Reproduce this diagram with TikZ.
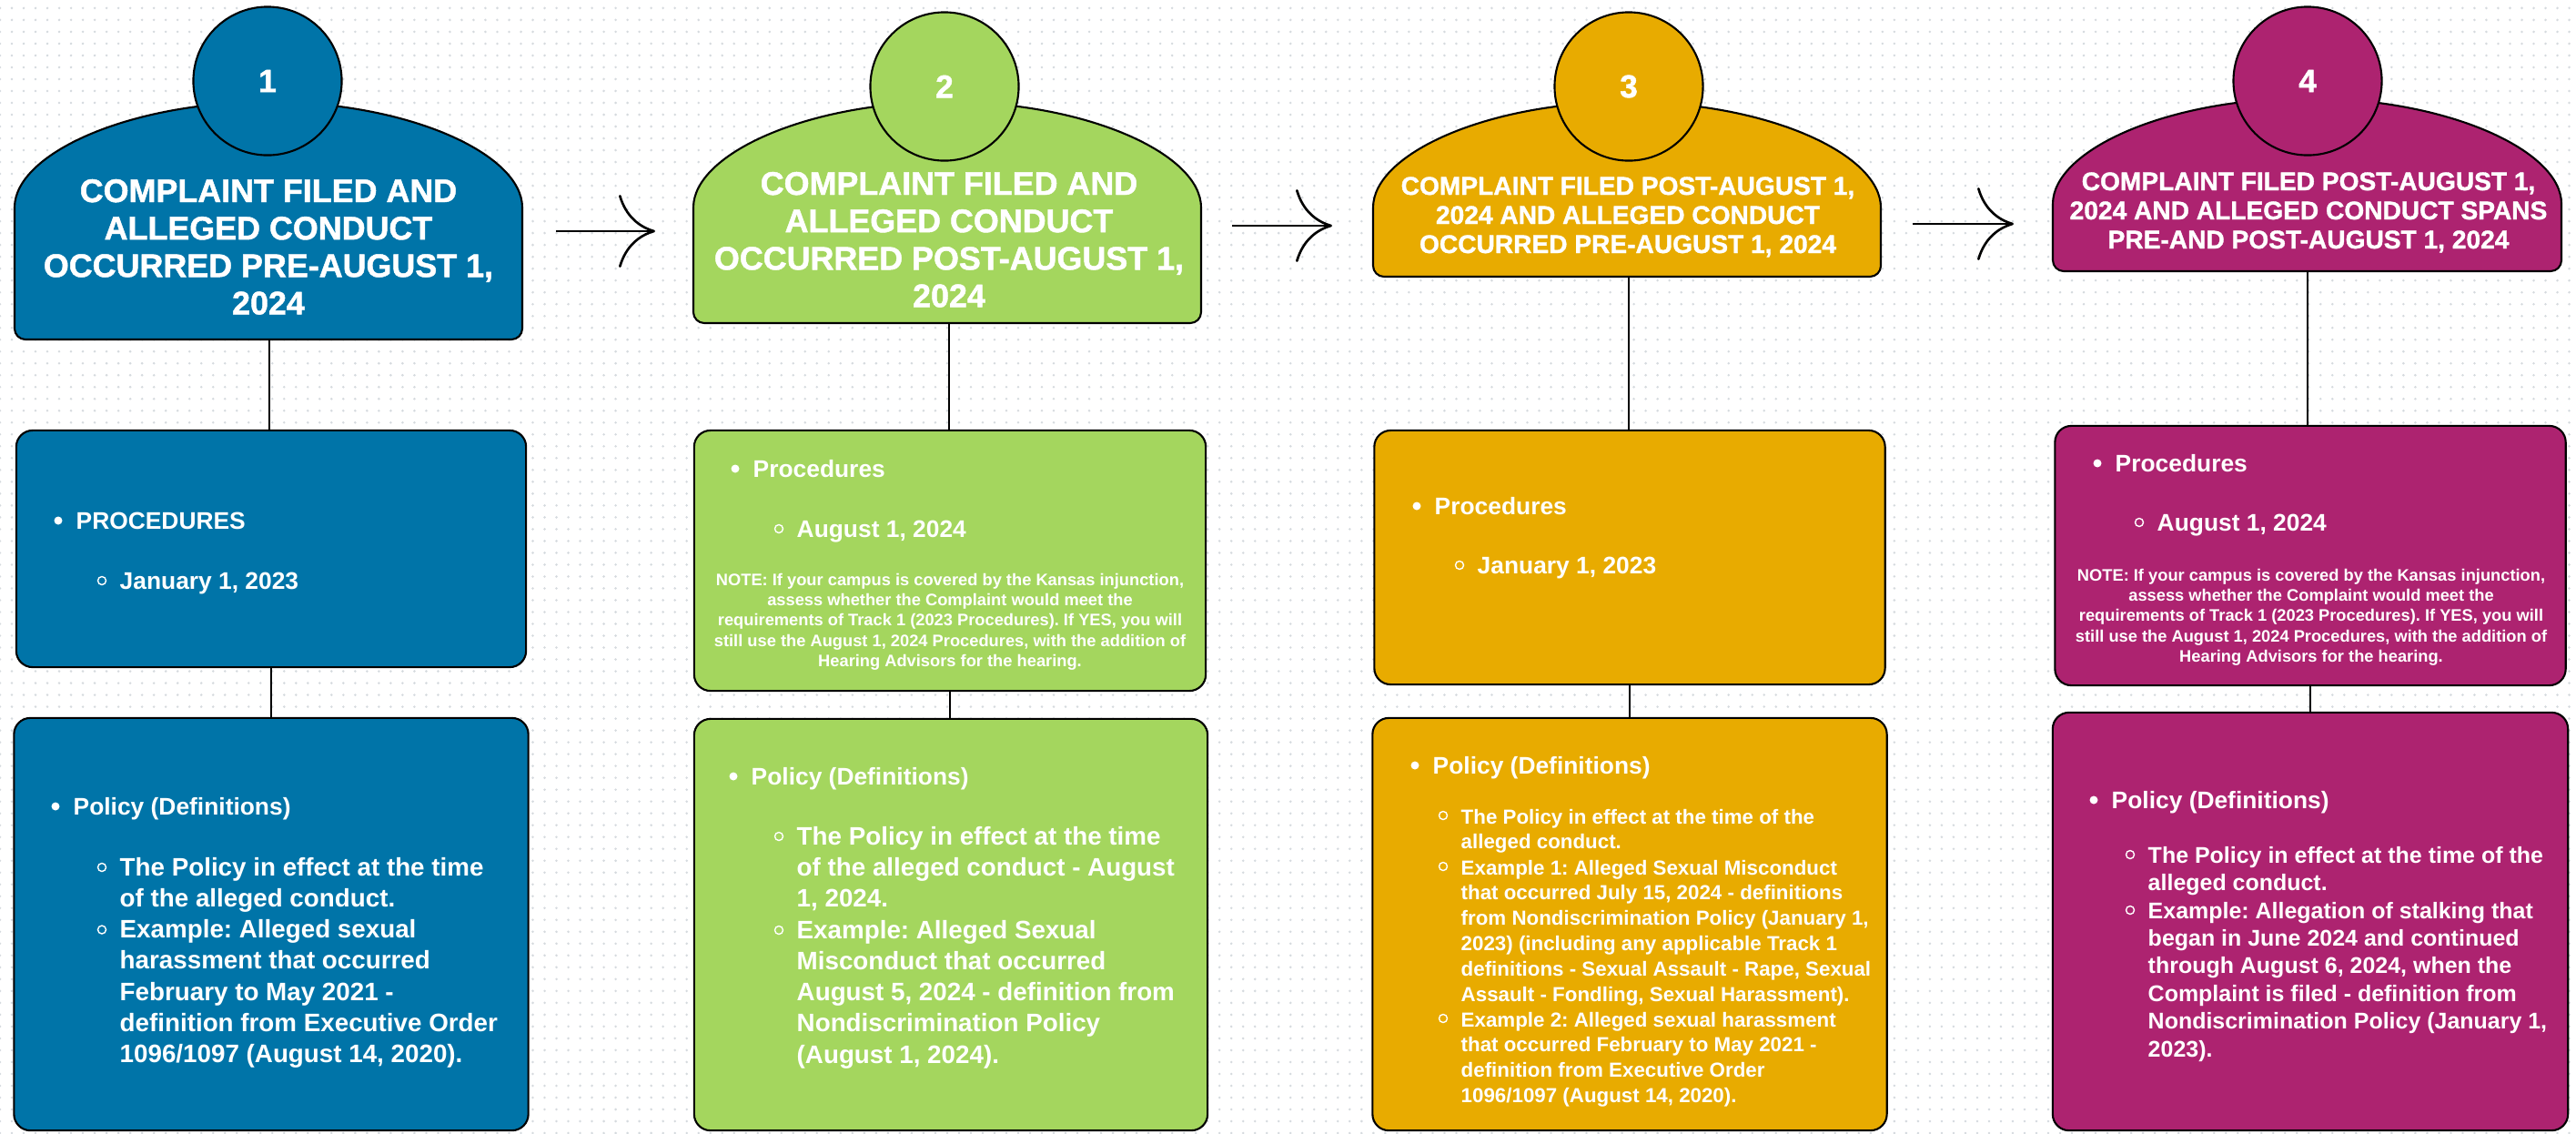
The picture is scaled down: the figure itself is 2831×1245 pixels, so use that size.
\documentclass[tikz,border=0pt]{standalone}
\usepackage{fontspec}
\setmainfont{Liberation Sans}
\newfontfamily\headfont{Liberation Sans}[BoldFeatures={FakeBold=1.3}]
\usetikzlibrary{arrows.meta, patterns}
\definecolor{caseblue}{HTML}{0074A8}
\definecolor{casegreen}{HTML}{A4D65E}
\definecolor{casegold}{HTML}{E8AB00}
\definecolor{caseplum}{HTML}{AD2370}
\definecolor{dotgrey}{HTML}{D5DADE}
\pgfdeclarepatternformonly{canvasdots}{\pgfqpoint{-1pt}{-1pt}}{\pgfqpoint{1pt}{1pt}}{\pgfqpoint{3.7pt}{3.7pt}}{\pgfpathcircle{\pgfpointorigin}{0.4pt}\pgfusepath{fill}}
% line stacks whose baseline is the first line
\newcommand{\lstack}[1]{\begin{tabular}[t]{@{}l@{}}#1\end{tabular}}
\newcommand{\cstack}[1]{\begin{tabular}[t]{@{}c@{}}#1\end{tabular}}
\frenchspacing

\begin{document}
\begin{tikzpicture}[x=0.01cm, y=0.01cm,
    edge/.style={draw=black, line width=0.6pt},
    panel/.style={edge, rounded corners=0.18cm, inner sep=0pt},
    badge/.style={circle, edge, minimum size=1.63cm, inner sep=0pt, text=white, font=\headfont\bfseries\fontsize{10}{12}\selectfont},
    hdtext/.style={text=white, anchor=base, inner sep=0pt, font=\headfont\bfseries\fontsize{10.2}{11.7}\selectfont},
    hdsmall/.style={hdtext, font=\headfont\bfseries\fontsize{8}{9.1}\selectfont},
    leadtext/.style={text=white, anchor=base west, inner sep=0pt, font=\bfseries\fontsize{7.5}{9}\selectfont},
    subtext/.style={text=white, anchor=base west, inner sep=0pt, font=\bfseries\fontsize{7.9}{9.76}\selectfont},
    subnarrow/.style={subtext, font=\bfseries\fontsize{6.35}{7.94}\selectfont},
    submid/.style={subtext, font=\bfseries\fontsize{7.1}{8.65}\selectfont},
    notetext/.style={text=white, anchor=base, inner sep=0pt, font=\bfseries\fontsize{5.2}{6.35}\selectfont},
    link/.style={line width=0.6pt},
    flow/.style={line width=0.75pt, -{Computer Modern Rightarrow[length=0.4cm, width=0.8cm]}},
  ]
    % canvas
    \fill[white] (0,0) rectangle (2831,-1245);
    \fill[pattern=canvasdots, pattern color=dotgrey] (0,0) rectangle (2831,-1245);
    \useasboundingbox (0,0) rectangle (2831,-1245);

    % heads
    \foreach \l/\r/\s/\b/\c in {16/574/240/373/caseblue, 762/1320/240/355/casegreen,
        1509/2067/240/304/casegold, 2256/2815/236/298/caseplum}{
      \filldraw[fill=\c, edge, rounded corners=0.12cm] (\r,-\s)
        arc[start angle=0, end angle=180, x radius={(\r-\l)/2}, y radius=128]
        -- (\l,-\b) -- (\r,-\b) -- cycle;
    }
    \node[badge, fill=caseblue] (n1) at (294,-89) {1};
    \node[badge, fill=casegreen] (n2) at (1038,-95) {2};
    \node[badge, fill=casegold] (n3) at (1790,-95) {3};
    \node[badge, fill=caseplum] (n4) at (2536,-89) {4};

    \node[hdtext] (h1) at (295,-222) {\cstack{COMPLAINT FILED AND\\ALLEGED CONDUCT\\OCCURRED PRE-AUGUST 1,\\2024}};
    \node[hdtext] (h2) at (1043,-214) {\cstack{COMPLAINT FILED AND\\ALLEGED CONDUCT\\OCCURRED POST-AUGUST 1,\\2024}};
    \node[hdsmall] (h3) at (1789,-214) {\cstack{COMPLAINT FILED POST-AUGUST 1,\\2024 AND ALLEGED CONDUCT\\OCCURRED PRE-AUGUST 1, 2024}};
    \node[hdsmall] (h4) at (2537,-209) {\cstack{COMPLAINT FILED POST-AUGUST 1,\\2024 AND ALLEGED CONDUCT SPANS\\PRE-AND POST-AUGUST 1, 2024}};

    \coordinate (f1) at (296,-373);
    \coordinate (f2) at (1043,-355);
    \coordinate (f3) at (1790,-304);
    \coordinate (f4) at (2536,-298);
    \coordinate (r1) at (574,-254);
    \coordinate (l2) at (762,-254);
    \coordinate (r2) at (1320,-248);
    \coordinate (l3) at (1509,-248);
    \coordinate (r3) at (2067,-246);
    \coordinate (l4) at (2256,-246);

    \draw[flow] ([shift={(37,0)}]r1) -- ([shift={(-42,0)}]l2);
    \draw[flow] ([shift={(34,0)}]r2) -- ([shift={(-45,0)}]l3);
    \draw[flow] ([shift={(35,0)}]r3) -- ([shift={(-43,0)}]l4);

    % boxes
    \node[panel, fill=caseblue, minimum width=5.6cm, minimum height=2.6cm] (p1) at (298,-603) {};
    \node[panel, fill=caseblue, minimum width=5.65cm, minimum height=4.53cm] (d1) at (298,-1015.5) {};
    \node[panel, fill=casegreen, minimum width=5.62cm, minimum height=2.86cm] (p2) at (1044,-616) {};
    \node[panel, fill=casegreen, minimum width=5.64cm, minimum height=4.52cm] (d2) at (1045,-1016) {};
    \node[panel, fill=casegold, minimum width=5.61cm, minimum height=2.79cm] (p3) at (1791,-612.5) {};
    \node[panel, fill=casegold, minimum width=5.65cm, minimum height=4.53cm] (d3) at (1791,-1015.5) {};
    \node[panel, fill=caseplum, minimum width=5.61cm, minimum height=2.85cm] (p4) at (2539,-610.5) {};
    \node[panel, fill=caseplum, minimum width=5.66cm, minimum height=4.59cm] (d4) at (2539,-1012.5) {};

    \foreach \i in {1,...,4}{
      \draw[link] (f\i) -- (f\i |- p\i.north);
      \draw[link] (p\i.south) -- (p\i.south |- d\i.north);
    }

    % column 1
    \node[leadtext] (p1a) at (83,-581) {PROCEDURES};
    \node[leadtext] (p1b) at (131,-647) {January 1, 2023};
    \node[leadtext] (d1a) at (80,-895) {Policy (Definitions)};
    \node[subtext] (d1b) at (131,-962) {\lstack{The Policy in effect at the time\\of the alleged conduct.}};
    \node[subtext] (d1c) at (131,-1030.5) {\lstack{Example: Alleged sexual\\harassment that occurred\\February to May 2021 -\\definition from Executive Order\\1096/1097 (August 14, 2020).}};

    % column 2
    \node[leadtext] (p2a) at (827,-524) {Procedures};
    \node[leadtext] (p2b) at (875,-590) {August 1, 2024};
    \node[notetext] (p2c) at (1044,-643) {\cstack{NOTE: If your campus is covered by the Kansas injunction,\\assess whether the Complaint would meet the\\requirements of Track 1 (2023 Procedures). If YES, you will\\still use the August 1, 2024 Procedures, with the addition of\\Hearing Advisors for the hearing.}};
    \node[leadtext] (d2a) at (825,-862) {Policy (Definitions)};
    \node[subtext] (d2b) at (875,-928) {\lstack{The Policy in effect at the time\\of the alleged conduct - August\\1, 2024.}};
    \node[subtext] (d2c) at (875,-1031) {\lstack{Example: Alleged Sexual\\Misconduct that occurred\\August 5, 2024 - definition from\\Nondiscrimination Policy\\(August 1, 2024).}};

    % column 3
    \node[leadtext] (p3a) at (1576,-565) {Procedures};
    \node[leadtext] (p3b) at (1623,-630) {January 1, 2023};
    \node[leadtext] (d3a) at (1574,-850) {Policy (Definitions)};
    \node[subnarrow] (d3b) at (1605,-905) {\lstack{The Policy in effect at the time of the\\alleged conduct.}};
    \node[subnarrow] (d3c) at (1605,-961) {\lstack{Example 1: Alleged Sexual Misconduct\\that occurred July 15, 2024 - definitions\\from Nondiscrimination Policy (January 1,\\2023) (including any applicable Track 1\\definitions - Sexual Assault - Rape, Sexual\\Assault - Fondling, Sexual Harassment).}};
    \node[subnarrow] (d3d) at (1605,-1128) {\lstack{Example 2: Alleged sexual harassment\\that occurred February to May 2021 -\\definition from Executive Order\\1096/1097 (August 14, 2020).}};

    % column 4
    \node[leadtext] (p4a) at (2324,-518) {Procedures};
    \node[leadtext] (p4b) at (2370,-583) {August 1, 2024};
    \node[notetext] (p4c) at (2540,-638) {\cstack{NOTE: If your campus is covered by the Kansas injunction,\\assess whether the Complaint would meet the\\requirements of Track 1 (2023 Procedures). If YES, you will\\still use the August 1, 2024 Procedures, with the addition of\\Hearing Advisors for the hearing.}};
    \node[leadtext] (d4a) at (2320,-888) {Policy (Definitions)};
    \node[submid] (d4b) at (2360,-948) {\lstack{The Policy in effect at the time of the\\alleged conduct.}};
    \node[submid] (d4c) at (2360,-1009) {\lstack{Example: Allegation of stalking that\\began in June 2024 and continued\\through August 6, 2024, when the\\Complaint is filed - definition from\\Nondiscrimination Policy (January 1,\\2023).}};

    % bullets
    \foreach \n in {p1a, d1a, p2a, d2a, p3a, d3a, p4a, d4a}
      \fill[white] ([shift={(-19,9)}]\n.base west) circle (4.5);
    \foreach \n in {p1b, d1b, d1c, p2b, d2b, d2c, p3b, d3b, d3c, d3d, p4b, d4b, d4c}
      \draw[white, line width=0.4pt] ([shift={(-19,9)}]\n.base west) circle (4.5);
  \end{tikzpicture}
\end{document}
